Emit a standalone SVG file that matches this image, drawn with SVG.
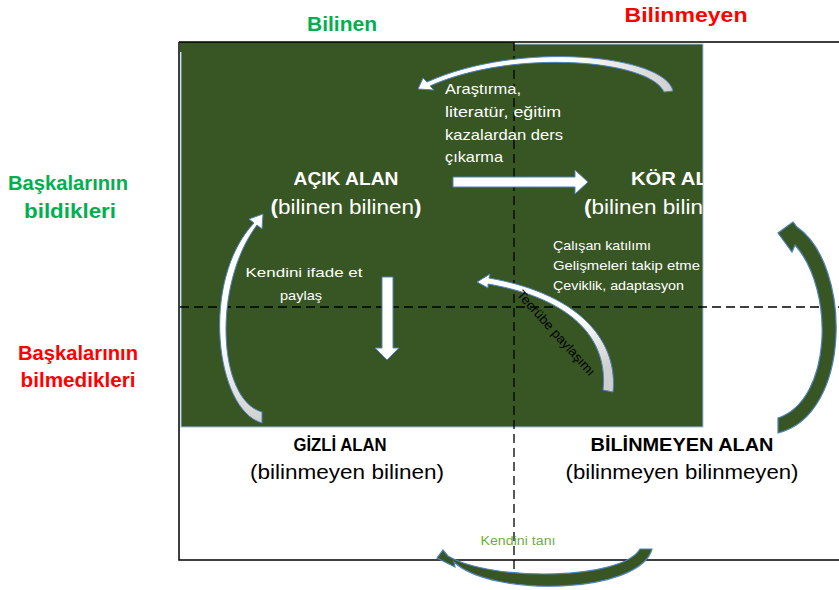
<svg xmlns="http://www.w3.org/2000/svg" width="839" height="590" viewBox="0 0 839 590">
<style>
text { font-family: "Liberation Sans", Arial, sans-serif; }
.hdr { font-size: 21px; font-weight: bold; }
.g { fill: #00b050; }
.r { fill: #ff0000; }
.wt { fill: #ffffff; }
.bk { fill: #000000; }
.title { font-size: 19px; font-weight: bold; }
.sub { font-size: 21px; }
.note { font-size: 15px; fill: #ffffff; }
.small { font-size: 13px; fill: #ffffff; }
.dash { stroke: #000; stroke-width: 1.3; stroke-dasharray: 9 5; fill: none; }
.wArrow { stroke: #4f81bd; stroke-width: 1; }
.gArrow { fill: #375623; stroke: #4f81bd; stroke-width: 1.2; }
</style>
<defs>
<linearGradient id="gTop" x1="0" y1="0" x2="1" y2="0">
<stop offset="0" stop-color="#ffffff"/><stop offset="0.6" stop-color="#ffffff"/><stop offset="1" stop-color="#cfcfcf"/>
</linearGradient>
<linearGradient id="gLeft" x1="0" y1="0" x2="0" y2="1">
<stop offset="0" stop-color="#ffffff"/><stop offset="0.6" stop-color="#ffffff"/><stop offset="1" stop-color="#cfcfcf"/>
</linearGradient>
<linearGradient id="gTec" x1="0" y1="0" x2="0.6" y2="1">
<stop offset="0" stop-color="#ffffff"/><stop offset="0.6" stop-color="#ffffff"/><stop offset="1" stop-color="#cfcfcf"/>
</linearGradient>
<clipPath id="clipGreen"><rect x="180" y="40" width="523" height="390"/></clipPath>
</defs>

<!-- background grid -->
<g id="grid">
<rect x="181" y="44" width="522" height="383" fill="#375623" stroke="#9dc3e6" stroke-width="1"/>
<rect x="180" y="42" width="334" height="10" fill="#375623"/>
<path d="M179,42 H839 M179,42 V560 H839" stroke="#000" stroke-width="1.5" fill="none"/>
<path class="dash" d="M514,42 V586"/>
<path class="dash" d="M180,307 H839"/>
</g>

<!-- headers -->
<g id="header-bilinen"><text class="hdr g" x="342" y="31" text-anchor="middle" font-size="22">Bilinen</text></g>
<g id="header-bilinmeyen"><text class="hdr r" x="686" y="22" text-anchor="middle" textLength="123" lengthAdjust="spacingAndGlyphs">Bilinmeyen</text></g>
<g id="header-bildikleri">
<text class="hdr g" x="68" y="190" text-anchor="middle" font-size="20" textLength="120" lengthAdjust="spacingAndGlyphs">Başkalarının</text>
<text class="hdr g" x="70" y="218" text-anchor="middle" font-size="20" textLength="92" lengthAdjust="spacingAndGlyphs">bildikleri</text>
</g>
<g id="header-bilmedikleri">
<text class="hdr r" x="78" y="360" text-anchor="middle" font-size="20" textLength="120" lengthAdjust="spacingAndGlyphs">Başkalarının</text>
<text class="hdr r" x="78" y="387" text-anchor="middle" font-size="20" textLength="115" lengthAdjust="spacingAndGlyphs">bilmedikleri</text>
</g>

<!-- connectors -->
<g id="connectors">
<!-- right block arrow -->
<path class="wArrow" fill="#ffffff" d="M453,177 H575 V170 L588,182 L575,194 V187 H453 Z"/>
<!-- down block arrow -->
<path class="wArrow" fill="#ffffff" d="M382,277 H393 V348 H399 L387,360 L375,348 H382 Z"/>
<!-- top curved arrow -->
<path class="wArrow" fill="url(#gTop)" d="M673,91 C665,55 520,40 427,82 L423,78 L418,89 L434,90 L430,86 C515,48 650,60 664,92 Z"/>
<!-- left curved arrow -->
<path class="wArrow" fill="url(#gLeft)" d="M262,423 C215,410 200,280 254,223 L249,219 L263,214 L262,229 L257,225 C212,285 218,400 262,412 Z"/>
<!-- tecrübe curved arrow -->
<path class="wArrow" fill="url(#gTec)" d="M613,392 C618,345 585,295 489,278 L490,274 L477,282 L488,288 L488,284 C580,300 608,345 603,390 Z"/>
<!-- right green arrow -->
<path class="gArrow" d="M778,433 C852,415 852,265 797,227 L793,222 L778,233 L792,252 L795,245 C835,290 832,400 778,418 Z"/>
<!-- bottom green arrow -->
<path class="gArrow" d="M652,549 C640,594 492,598 454,562 L455,567 L437,558 L443,550 L448,556 C492,582 622,580 640,549 Z"/>
</g>

<!-- quadrant nodes -->
<g id="acik-alan">
<text class="title wt" x="346" y="185" text-anchor="middle" textLength="105" lengthAdjust="spacingAndGlyphs">AÇIK ALAN</text>
<text class="sub wt" x="346" y="214" text-anchor="middle" textLength="151" lengthAdjust="spacingAndGlyphs"><tspan font-weight="bold">(</tspan>bilinen bilinen<tspan font-weight="bold">)</tspan></text>
</g>
<g id="kor-alan" clip-path="url(#clipGreen)">
<text class="title wt" x="631" y="185" textLength="106" lengthAdjust="spacingAndGlyphs">KÖR ALAN</text>
<text class="sub wt" x="584" y="214" textLength="194" lengthAdjust="spacingAndGlyphs"><tspan font-weight="bold">(</tspan>bilinen bilinmeyen<tspan font-weight="bold">)</tspan></text>
</g>
<g id="gizli-alan">
<text class="title bk" x="340" y="451" text-anchor="middle" textLength="93" lengthAdjust="spacingAndGlyphs">GİZLİ ALAN</text>
<text class="sub bk" x="347" y="479" text-anchor="middle" textLength="194" lengthAdjust="spacingAndGlyphs">(bilinmeyen bilinen)</text>
</g>
<g id="bilinmeyen-alan">
<text class="title bk" x="682" y="451" text-anchor="middle" textLength="183" lengthAdjust="spacingAndGlyphs">BİLİNMEYEN ALAN</text>
<text class="sub bk" x="682" y="479" text-anchor="middle" textLength="233" lengthAdjust="spacingAndGlyphs">(bilinmeyen bilinmeyen)</text>
</g>

<!-- notes -->
<g id="note-arastirma">
<text class="note" x="445" y="94" textLength="76" lengthAdjust="spacingAndGlyphs">Araştırma,</text>
<text class="note" x="445" y="117" textLength="116" lengthAdjust="spacingAndGlyphs">literatür, eğitim</text>
<text class="note" x="445" y="140" textLength="118" lengthAdjust="spacingAndGlyphs">kazalardan ders</text>
<text class="note" x="445" y="162" textLength="58" lengthAdjust="spacingAndGlyphs">çıkarma</text>
</g>
<g id="note-calisan">
<text class="small" x="553" y="250" textLength="98" lengthAdjust="spacingAndGlyphs">Çalışan katılımı</text>
<text class="small" x="553" y="270" textLength="147" lengthAdjust="spacingAndGlyphs">Gelişmeleri takip etme</text>
<text class="small" x="553" y="290" textLength="131" lengthAdjust="spacingAndGlyphs">Çeviklik, adaptasyon</text>
</g>
<g id="note-kendini-ifade">
<text class="small" x="304" y="277" text-anchor="middle" font-size="14" textLength="117" lengthAdjust="spacingAndGlyphs">Kendini ifade et</text>
<text class="small" x="301" y="300" text-anchor="middle" font-size="14" textLength="42" lengthAdjust="spacingAndGlyphs">paylaş</text>
</g>
<g id="note-tecrube">
<text x="516" y="295" font-size="13" fill="#000" transform="rotate(48 516 295)" textLength="110" lengthAdjust="spacingAndGlyphs">Tecrübe paylaşımı</text>
</g>
<g id="note-kendini-tani">
<text x="518" y="545" font-size="12.5" fill="#70ad47" text-anchor="middle" textLength="75" lengthAdjust="spacingAndGlyphs">Kendini tanı</text>
</g>
</svg>
